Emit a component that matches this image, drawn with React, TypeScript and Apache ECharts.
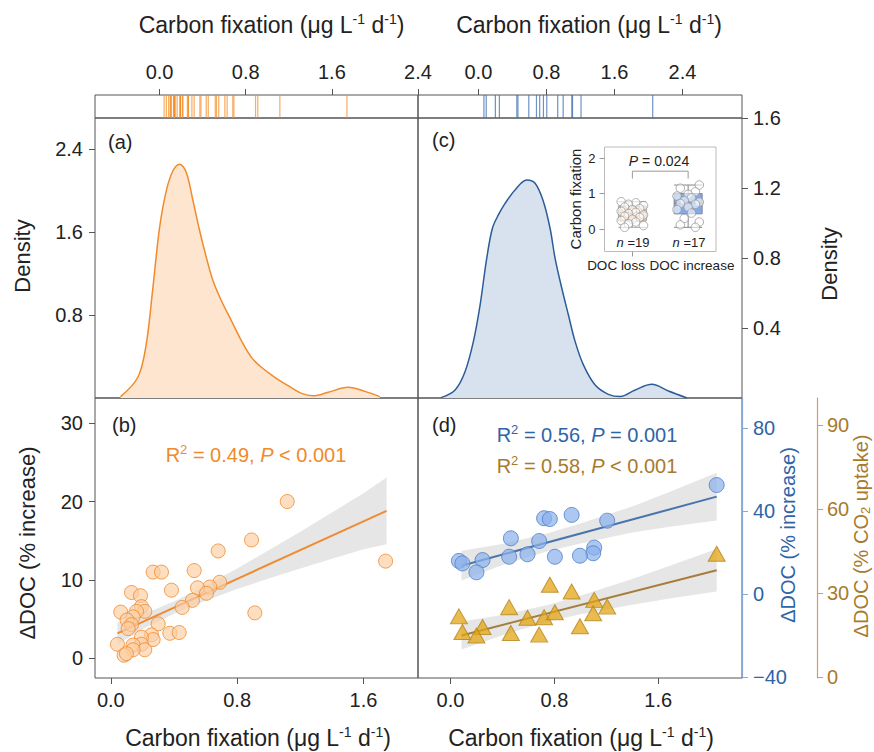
import React, { useEffect, useRef } from "react";
import * as echarts from "echarts";

// ---------- data ----------
const topTicks = [0, 0.8, 1.6, 2.4];
const bottomTicks = [0, 0.8, 1.6];
const densALabels = [0.8, 1.6, 2.4];
const densCLabels = [0.4, 0.8, 1.2, 1.6];
const bTicks = [0, 10, 20, 30];
const blueTicks = [-40, 0, 40, 80];
const brownTicks = [0, 30, 60, 90];
const insetTicks = [0, 1, 2];
const insetCategories = ["DOC loss", "DOC increase"];

// panel (b): carbon fixation vs ΔDOC (% increase)
const bX = [1.117, 0.891, 0.68, 1.74, 0.268, 0.321, 0.528, 0.384, 0.131, 0.188, 0.69, 0.627, 0.549, 0.606, 0.517, 0.452, 0.912, 0.194, 0.215, 0.063, 0.163, 0.141, 0.103, 0.131, 0.11, 0.3, 0.374, 0.433, 0.258, 0.268, 0.194, 0.194, 0.042, 0.141, 0.215, 0.141, 0.084, 0.099];
const bY = [20.0, 15.1, 13.7, 12.4, 11.0, 11.0, 11.2, 8.7, 8.4, 8.0, 9.7, 9.1, 9.0, 8.3, 7.4, 6.5, 5.8, 6.6, 6.0, 5.9, 6.0, 5.3, 4.9, 4.3, 3.8, 4.4, 3.2, 3.3, 3.0, 2.4, 2.7, 1.8, 1.8, 1.7, 1.1, 1.1, 0.4, 0.6];
const bLineX = [0.042, 1.746];
const bLineY = [3.19, 18.81];
const bBandX = [0.042, 0.2, 0.4, 0.6, 0.8, 1.0, 1.2, 1.4, 1.6, 1.746];
const bBandLow = [1.8, 3.7, 5.7, 7.35, 8.85, 10.2, 11.45, 12.7, 13.9, 14.55];
const bBandHigh = [4.6, 5.6, 7.25, 9.25, 11.45, 13.8, 16.15, 18.6, 21.05, 23.05];

// panel (d)
const dX = [2.05, 0.933, 0.721, 0.765, 1.207, 0.465, 0.683, 1.107, 1.099, 0.804, 0.997, 0.593, 0.452, 0.247, 0.065, 0.092, 0.2];
const dBlue = [52.5, 38.1, 36.5, 36.1, 35.3, 26.8, 25.5, 22.3, 19.6, 17.9, 18.4, 19.1, 17.9, 16.3, 15.9, 14.7, 10.4];
const dBrown = [44.0, 30.5, 21.3, 32.9, 25.1, 15.7, 15.1, 27.5, 22.7, 23.1, 18.1, 21.1, 24.9, 17.8, 21.6, 16.0, 14.8];
const dLineX = [0.085, 2.05];
const dBlueLineY = [13.6, 46.9];
const dBrownLineY = [14.8, 38.1];
const dBandX = [0.085, 0.4, 0.75, 1.0, 1.4, 1.7, 2.05];
const blueBandLow = [6.4, 13.9, 20.5, 24.3, 29.6, 32.5, 35.4];
const blueBandHigh = [20.8, 24.0, 29.3, 33.9, 42.2, 49.5, 58.4];
const brownBandLow = [9.8, 14.9, 19.7, 22.35, 25.8, 28.05, 30.5];
const brownBandHigh = [19.8, 22.1, 25.7, 28.95, 35.0, 39.85, 45.7];

// density curves
const densAX = [-0.363, -0.202, -0.124, -0.062, 0, 0.062, 0.124, 0.186, 0.248, 0.31, 0.372, 0.434, 0.496, 0.574, 0.667, 0.76, 0.853, 0.946, 1.07, 1.194, 1.318, 1.426, 1.566, 1.752, 1.907, 2.046];
const densAY = [0.013, 0.2, 0.52, 1.067, 1.645, 1.998, 2.191, 2.255, 2.175, 1.902, 1.613, 1.356, 1.131, 0.938, 0.745, 0.552, 0.392, 0.296, 0.199, 0.119, 0.045, 0.022, 0.055, 0.103, 0.064, 0.013];
const densCX = [-0.439, -0.274, -0.157, -0.059, 0.02, 0.098, 0.165, 0.235, 0.314, 0.431, 0.569, 0.667, 0.765, 0.843, 0.902, 0.981, 1.059, 1.138, 1.235, 1.373, 1.529, 1.667, 1.844, 2.04, 2.235, 2.452];
const densCY = [0.002, 0.046, 0.15, 0.322, 0.531, 0.798, 0.97, 1.046, 1.112, 1.189, 1.246, 1.227, 1.122, 0.97, 0.798, 0.627, 0.474, 0.322, 0.189, 0.074, 0.021, 0.008, 0.046, 0.078, 0.04, 0];

// inset
const insetLoss = [0.77, 0.74, 0.7, 0.66, 0.62, 0.58, 0.55, 0.5, 0.47, 0.44, 0.4, 0.36, 0.33, 0.28, 0.24, 0.2, 0.15, 0.1, 0.05];
const insetIncrease = [1.24, 1.15, 1.05, 0.98, 0.93, 0.88, 0.8, 0.76, 0.72, 0.7, 0.62, 0.55, 0.45, 0.3, 0.2, 0.12, 0.05];
const insetBoxes = [
  [0.05, 0.23, 0.47, 0.65, 0.77],
  [0.05, 0.43, 0.73, 1.0, 1.24],
];

// ---------- styles ----------
const FONT = "'Liberation Sans', Arial, sans-serif";
const TXT = "#222";
const AX = "#555";
const ORANGE = "#F08A2C";
const BLUE = "#2E64A8";
const BROWN = "#A97A2C";
const jitterCycle = [-0.2, 0.06, -0.07, 0.2, -0.14, 0.13, 0];

const f1 = (v: number) => v.toFixed(1);
const fInt = (v: number) => (v < 0 ? "\u2212" + Math.abs(v) : String(v));

function tick(values: number[], color = AX, length = 6) {
  return { show: true, length, customValues: values, lineStyle: { color, width: 1 } };
}
function label(values: number[], formatter: any, margin: number, color = TXT, fontSize = 20) {
  return { show: true, customValues: values, formatter, margin, color, fontSize, fontFamily: FONT };
}
const noLine = { show: false, onZero: false };

function band(xs: number[], lo: number[], hi: number[], xi: number, yi: number) {
  return {
    type: "custom",
    xAxisIndex: xi,
    yAxisIndex: yi,
    silent: true,
    z: 1,
    data: [[xs[0], lo[0]]],
    renderItem: (_p: any, api: any) => {
      const up = xs.map((x, i) => api.coord([x, hi[i]]));
      const dn = xs.map((x, i) => api.coord([x, lo[i]])).reverse();
      return {
        type: "polygon",
        shape: { points: up.concat(dn) },
        style: { fill: "rgba(205,205,205,0.5)" },
      };
    },
  };
}

function zip(a: number[], b: number[]) {
  return a.map((v, i) => [v, b[i]]);
}

function titleText(x: number, y: number, size = 23) {
  return {
    type: "text",
    x,
    y,
    style: {
      text: "{n|Carbon fixation (μg L}{s|-1}{n| d}{s|-1}{n|)}",
      align: "center",
      verticalAlign: "middle",
      rich: {
        n: { fontSize: size, fontFamily: FONT, fill: TXT, color: TXT, lineHeight: size + 4 },
        s: { fontSize: 14, fontFamily: FONT, fill: TXT, color: TXT, verticalAlign: "top", lineHeight: 14 },
      },
    },
  };
}

function plainText(x: number, y: number, text: string, size: number, color = TXT, rotation = 0, align = "center") {
  return {
    type: "text",
    x,
    y,
    rotation,
    z: 10,
    style: { text, fontSize: size, fontFamily: FONT, fill: color, align, verticalAlign: "middle" },
  };
}

function statText(x: number, y: number, r2: string, rel: string, p: string, color: string) {
  return {
    type: "text",
    x,
    y,
    style: {
      text: `{n|R}{s|2}{n| = ${r2}, }{i|P}{n| ${rel} ${p}}`,
      align: "center",
      verticalAlign: "middle",
      rich: {
        n: { fontSize: 20, fontFamily: FONT, fill: color, color, lineHeight: 24 },
        i: { fontSize: 20, fontFamily: FONT, fontStyle: "italic", fill: color, color, lineHeight: 24 },
        s: { fontSize: 13, fontFamily: FONT, fill: color, color, verticalAlign: "top", lineHeight: 13 },
      },
    },
  };
}

function italicN(x: number, y: number, rest: string, size: number, italic: string) {
  return {
    type: "text", x, y, z: 10,
    style: {
      text: `{i|${italic}}{n|${rest}}`, align: "center", verticalAlign: "middle",
      rich: {
        i: { fontSize: size, fontFamily: FONT, fontStyle: "italic", fill: TXT, color: TXT },
        n: { fontSize: size, fontFamily: FONT, fill: TXT, color: TXT },
      },
    },
  };
}

function buildOption(): any {
  const gridBase = { show: true, borderColor: AX, borderWidth: 1, containLabel: false, outerBoundsMode: "none" };
  const insetPts: number[][] = [];
  insetLoss.forEach((v, k) => insetPts.push([0 + jitterCycle[k % jitterCycle.length], v]));
  insetIncrease.forEach((v, k) => insetPts.push([1 + jitterCycle[(k + 3) % jitterCycle.length], v]));

  return {
    animation: false,
    backgroundColor: "#fff",
    grid: [
      { ...gridBase, left: 95, top: 95, width: 323, height: 23 },
      { ...gridBase, left: 418, top: 95, width: 324, height: 23 },
      { ...gridBase, left: 95, top: 118, width: 323, height: 280 },
      { ...gridBase, left: 418, top: 118, width: 324, height: 280 },
      { ...gridBase, left: 95, top: 398, width: 323, height: 280 },
      { ...gridBase, left: 418, top: 398, width: 324, height: 280 },
      { ...gridBase, left: 604.5, top: 147, width: 111.5, height: 104.5, borderColor: "#bbb", backgroundColor: "#fff", z: 5 },
    ],
    xAxis: [
      { gridIndex: 0, type: "value", min: -0.6, max: 2.4, position: "top", axisLine: noLine, splitLine: { show: false }, axisTick: tick(topTicks), axisLabel: label(topTicks, f1, 13) },
      { gridIndex: 1, type: "value", min: -0.71, max: 3.1, position: "top", axisLine: noLine, splitLine: { show: false }, axisTick: tick(topTicks), axisLabel: label(topTicks, f1, 13) },
      { gridIndex: 2, type: "value", min: -0.6, max: 2.4, show: false, axisLine: noLine },
      { gridIndex: 3, type: "value", min: -0.71, max: 3.1, show: false, axisLine: noLine },
      { gridIndex: 4, type: "value", min: -0.1, max: 1.945, position: "bottom", axisLine: noLine, splitLine: { show: false }, axisTick: tick(bottomTicks), axisLabel: label(bottomTicks, f1, 12) },
      { gridIndex: 5, type: "value", min: -0.25, max: 2.245, position: "bottom", axisLine: noLine, splitLine: { show: false }, axisTick: tick(bottomTicks), axisLabel: label(bottomTicks, f1, 12) },
      {
        gridIndex: 6, type: "category", data: insetCategories, z: 6, position: "bottom",
        axisLine: noLine,
        axisTick: { show: true, alignWithLabel: true, length: 5, lineStyle: { color: "#999" } },
        axisLabel: { show: false },
      },
      { gridIndex: 6, type: "value", min: -0.5, max: 1.5, show: false, axisLine: noLine },
    ],
    yAxis: [
      { gridIndex: 0, type: "value", min: 0, max: 1, show: false, axisLine: noLine },
      { gridIndex: 1, type: "value", min: 0, max: 1, show: false, axisLine: noLine },
      { gridIndex: 2, type: "value", min: 0, max: 2.7, position: "left", axisLine: noLine, splitLine: { show: false }, axisTick: tick(densALabels), axisLabel: label(densALabels, f1, 12) },
      { gridIndex: 3, type: "value", min: 0, max: 1.6, position: "right", axisLine: noLine, splitLine: { show: false }, axisTick: tick(densCLabels), axisLabel: label(densCLabels, f1, 11) },
      { gridIndex: 4, type: "value", min: -2.5, max: 33.2, position: "left", axisLine: noLine, splitLine: { show: false }, axisTick: tick(bTicks), axisLabel: label(bTicks, fInt, 12) },
      {
        gridIndex: 5, type: "value", min: -40.6, max: 94.5, position: "right", z: 4,
        axisLine: { show: true, onZero: false, lineStyle: { color: "#88A8D6", width: 1.2 } }, splitLine: { show: false },
        axisTick: tick(blueTicks, "#88A8D6"), axisLabel: label(blueTicks, fInt, 11, BLUE),
      },
      {
        gridIndex: 5, type: "value", min: -0.4, max: 99.6, position: "right", offset: 75, z: 4,
        axisLine: { show: true, onZero: false, lineStyle: { color: "#C8A262", width: 1.2 } }, splitLine: { show: false },
        axisTick: tick(brownTicks, "#C8A262"), axisLabel: label(brownTicks, fInt, 10, BROWN),
      },
      { gridIndex: 6, type: "value", min: -0.63, max: 2.31, position: "left", z: 6, axisLine: noLine, splitLine: { show: false }, axisTick: tick(insetTicks, "#999", 5), axisLabel: label(insetTicks, (v: number) => String(v), 9, TXT, 13) },
    ],
    series: [
      // rugs
      {
        type: "scatter", xAxisIndex: 0, yAxisIndex: 0, symbol: "rect", symbolSize: [1.2, 23],
        data: bX.map((x) => [x, 0.5]), itemStyle: { color: "#F5891F", opacity: 0.7 }, silent: true,
      },
      {
        type: "scatter", xAxisIndex: 1, yAxisIndex: 1, symbol: "rect", symbolSize: [1.2, 23],
        data: dX.map((x) => [x, 0.5]), itemStyle: { color: "#3D6DB0", opacity: 0.75 }, silent: true,
      },
      // densities
      {
        type: "line", xAxisIndex: 2, yAxisIndex: 2, data: zip(densAX, densAY), smooth: 0.35, symbol: "none",
        lineStyle: { color: "#F28A2A", width: 1.5 }, areaStyle: { color: "#FDE5D0", opacity: 1 },
      },
      {
        type: "line", xAxisIndex: 3, yAxisIndex: 3, data: zip(densCX, densCY), smooth: 0.35, symbol: "none",
        lineStyle: { color: "#2C5C98", width: 1.5 }, areaStyle: { color: "#D8E2EE", opacity: 1 },
      },
      // panel b
      band(bBandX, bBandLow, bBandHigh, 4, 4),
      {
        type: "line", xAxisIndex: 4, yAxisIndex: 4, data: zip(bLineX, bLineY), symbol: "none", z: 2,
        lineStyle: { color: "#EE8B35", width: 2 },
      },
      {
        type: "scatter", xAxisIndex: 4, yAxisIndex: 4, data: zip(bX, bY), symbolSize: 14, z: 3,
        itemStyle: { color: "rgba(252,204,160,0.82)", borderColor: ORANGE, borderWidth: 1 },
      },
      // panel d
      band(dBandX, blueBandLow, blueBandHigh, 5, 5),
      band(dBandX, brownBandLow, brownBandHigh, 5, 6),
      {
        type: "line", xAxisIndex: 5, yAxisIndex: 5, data: zip(dLineX, dBlueLineY), symbol: "none", z: 2,
        lineStyle: { color: "#4A74AC", width: 2 },
      },
      {
        type: "line", xAxisIndex: 5, yAxisIndex: 6, data: zip(dLineX, dBrownLineY), symbol: "none", z: 2,
        lineStyle: { color: "#A67E3C", width: 2 },
      },
      {
        type: "scatter", xAxisIndex: 5, yAxisIndex: 5, data: zip(dX, dBlue), symbolSize: 15, z: 3,
        itemStyle: { color: "rgba(140,178,234,0.9)", borderColor: "#4C7FCB", borderWidth: 1 },
      },
      {
        type: "scatter", xAxisIndex: 5, yAxisIndex: 6, data: zip(dX, dBrown), symbol: "triangle", symbolSize: [17, 15], z: 3,
        itemStyle: { color: "rgba(226,164,18,0.92)", borderColor: "#B5851B", borderWidth: 1 },
      },
      // inset
      {
        type: "boxplot", xAxisIndex: 6, yAxisIndex: 7, boxWidth: [28, 28], z: 6,
        data: [
          { value: insetBoxes[0], itemStyle: { color: "#F9CDA2", borderColor: "#A8A8A8", borderWidth: 1 } },
          { value: insetBoxes[1], itemStyle: { color: "#86AAE8", borderColor: "#7F8790", borderWidth: 1 } },
        ],
      },
      {
        type: "line", xAxisIndex: 7, yAxisIndex: 7, z: 6, symbol: "none",
        data: [[0, 1.42], [0, 1.63], [1, 1.63], [1, 1.42]],
        lineStyle: { color: "#9a9a9a", width: 1 },
      },
      {
        type: "scatter", xAxisIndex: 7, yAxisIndex: 7, z: 7, symbolSize: 8.5,
        data: insetPts,
        itemStyle: { color: "rgba(255,255,255,0.72)", borderColor: "#999", borderWidth: 1 },
      },
    ],
    graphic: [
      titleText(271.5, 25),
      titleText(589, 25),
      titleText(258, 738),
      titleText(581, 738),
      plainText(22, 256, "Density", 22, TXT, Math.PI / 2),
      plainText(829, 264, "Density", 22, TXT, Math.PI / 2),
      plainText(27, 543, "ΔDOC (% increase)", 22, TXT, Math.PI / 2),
      plainText(788, 535, "ΔDOC (% increase)", 20, BLUE, Math.PI / 2),
      {
        type: "text", x: 861, y: 536, rotation: Math.PI / 2,
        style: {
          text: "{n|ΔDOC (% CO}{b|2}{n| uptake)}",
          align: "center", verticalAlign: "middle",
          rich: {
            n: { fontSize: 20, fontFamily: FONT, fill: BROWN, color: BROWN, lineHeight: 22 },
            b: { fontSize: 13, fontFamily: FONT, fill: BROWN, color: BROWN, verticalAlign: "bottom", lineHeight: 13 },
          },
        },
      },
      plainText(108, 142, "(a)", 20, TXT, 0, "left"),
      plainText(112, 425, "(b)", 20, TXT, 0, "left"),
      plainText(432, 140, "(c)", 20, TXT, 0, "left"),
      plainText(432, 425, "(d)", 20, TXT, 0, "left"),
      statText(256, 455, "0.49", "<", "0.001", ORANGE),
      statText(587, 435, "0.56", "=", "0.001", BLUE),
      statText(587, 466, "0.58", "<", "0.001", BROWN),
      plainText(575, 199, "Carbon fixation", 15, TXT, Math.PI / 2),
      italicN(659, 161, " = 0.024", 14, "P"),
      italicN(633, 242.5, " =19", 13, "n"),
      italicN(689, 242.5, " =17", 13, "n"),
      plainText(616, 265.5, insetCategories[0], 13.5),
      plainText(692, 265.5, insetCategories[1], 13.5),
    ],
  };
}

export default function App() {
  const ref = useRef<HTMLDivElement>(null);
  useEffect(() => {
    if (!ref.current) return;
    const chart = echarts.init(ref.current, null, { renderer: "svg" });
    chart.setOption(buildOption());
    return () => chart.dispose();
  }, []);
  return <div ref={ref} style={{ position: "absolute", left: 0, top: 0, width: 874, height: 752 }} />;
}
